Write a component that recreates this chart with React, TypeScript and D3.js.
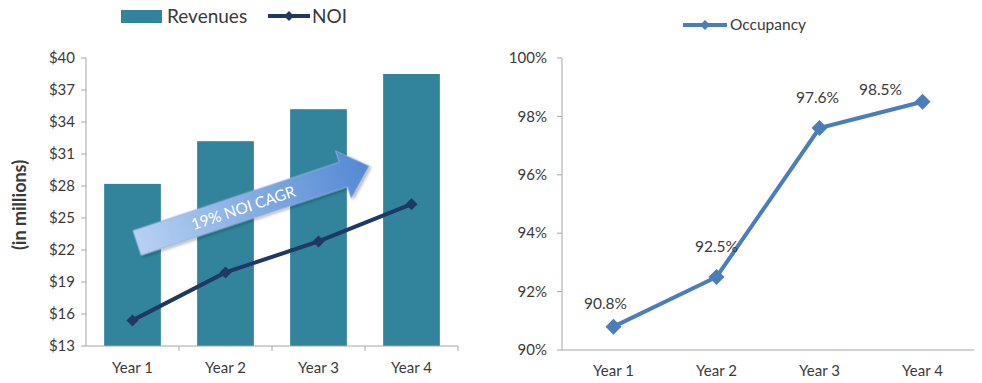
import React from "react";
import * as d3 from "d3";

const categories = ["Year 1", "Year 2", "Year 3", "Year 4"];
const revenues = [28.2, 32.2, 35.2, 38.5];
const noi = [15.4, 19.9, 22.8, 26.3];
const leftTicks = [13, 16, 19, 22, 25, 28, 31, 34, 37, 40];
const occupancy = [90.8, 92.5, 97.6, 98.5];
const occLabels = ["90.8%", "92.5%", "97.6%", "98.5%"];
const rightTicks = [90, 92, 94, 96, 98, 100];

const FONT = "Lato, 'Open Sans', sans-serif";
const TXT = "#3a3a3a";
const AX = "#a6a6a6";

function diamond(cx: number, cy: number, r: number) {
  return `M${cx},${cy - r}L${cx + r},${cy}L${cx},${cy + r}L${cx - r},${cy}Z`;
}

export default function App() {
  // Left chart
  const lx = d3.scaleBand<string>().domain(categories).range([86, 458]).paddingInner(0.39).paddingOuter(0.195);
  const lb = d3.scaleBand<string>().domain(categories).range([86, 458]);
  const ly = d3.scaleLinear().domain([13, 40]).range([346, 58]);
  const noiLine = d3
    .line<number>()
    .x((_, i) => lb(categories[i])! + lb.bandwidth() / 2)
    .y((d) => ly(d));

  // Right chart
  const rx = d3.scaleBand<string>().domain(categories).range([562, 974]);
  const ry = d3.scaleLinear().domain([90, 100]).range([350, 58]);
  const occLine = d3
    .line<number>()
    .x((_, i) => rx(categories[i])! + rx.bandwidth() / 2)
    .y((d) => ry(d));
  const labelOffsets = [
    [-8, -18],
    [0, -25],
    [-2, -25],
    [-42, -7],
  ];

  // Arrow geometry (annotation)
  const tail = [137, 243];
  const tip = [369, 166];
  const ang = Math.atan2(tip[1] - tail[1], tip[0] - tail[0]);
  const len = Math.hypot(tip[0] - tail[0], tip[1] - tail[1]);
  const headLen = 27;
  const shaftHalf = 13;
  const headHalf = 25;
  const arrowPath = `M0,${-shaftHalf}L${len - headLen},${-shaftHalf}L${len - headLen},${-headHalf}L${len},0L${len - headLen},${headHalf}L${len - headLen},${shaftHalf}L0,${shaftHalf}Z`;

  return (
    <svg width={982} height={383} style={{ position: "absolute", left: 0, top: 0, fontFamily: FONT }}>
      <defs>
        <linearGradient id="arrowGrad" x1="0" y1="0" x2="1" y2="0">
          <stop offset="0%" stopColor="#b7d1f2" />
          <stop offset="100%" stopColor="#5388d2" />
        </linearGradient>
        <filter id="shadow" x="-10%" y="-30%" width="120%" height="160%">
          <feDropShadow dx="1.5" dy="2" stdDeviation="1.5" floodColor="#000" floodOpacity="0.3" />
        </filter>
      </defs>
      <rect width={982} height={383} fill="#ffffff" />

      {/* Left legend */}
      <rect x={121} y={10} width={41} height={13} fill="#31849b" />
      <text x={167} y={23} fontSize={19} fill={TXT}>Revenues</text>
      <line x1={268} x2={310} y1={16} y2={16} stroke="#1f3864" strokeWidth={4} />
      <path d={diamond(289, 16, 5)} fill="#1f3864" />
      <text x={312} y={23} fontSize={19} fill={TXT}>NOI</text>

      {/* Left y label */}
      <text
        transform="translate(26,205) rotate(-90)"
        textAnchor="middle"
        fontSize={18}
        fontWeight="bold"
        fill={TXT}
      >
        (in millions)
      </text>

      {/* Left bars */}
      {revenues.map((v, i) => (
        <rect
          key={i}
          x={lx(categories[i])}
          y={ly(v)}
          width={lx.bandwidth()}
          height={ly(13) - ly(v)}
          fill="#31849b"
        />
      ))}

      {/* Left axes */}
      <line x1={86} x2={86} y1={58} y2={346} stroke={AX} strokeWidth={1} />
      {leftTicks.map((t) => (
        <g key={t}>
          <line x1={81} x2={86} y1={ly(t)} y2={ly(t)} stroke={AX} />
          <text x={75} y={ly(t)} dy="0.35em" textAnchor="end" fontSize={15} fill={TXT}>
            ${t}
          </text>
        </g>
      ))}
      <line x1={86} x2={458} y1={346} y2={346} stroke={AX} />
      {categories.map((c, i) => (
        <g key={c}>
          <line x1={lb(c)! + lb.bandwidth()} x2={lb(c)! + lb.bandwidth()} y1={346} y2={351} stroke={AX} />
          <text x={lb(c)! + lb.bandwidth() / 2} y={373} textAnchor="middle" fontSize={15} fill={TXT}>
            {c}
          </text>
        </g>
      ))}

      {/* Arrow annotation */}
      <g transform={`translate(${tail[0]},${tail[1]}) rotate(${(ang * 180) / Math.PI})`}>
        <path d={arrowPath} fill="url(#arrowGrad)" stroke="#8fb2e0" strokeWidth={0.8} filter="url(#shadow)" />
        <text x={112} y={0} dy="0.36em" textAnchor="middle" fontSize={15.5} fill="#ffffff">
          19% NOI CAGR
        </text>
      </g>

      {/* NOI line */}
      <path d={noiLine(noi)!} fill="none" stroke="#1f3864" strokeWidth={4} />
      {noi.map((v, i) => (
        <path key={i} d={diamond(lb(categories[i])! + lb.bandwidth() / 2, ly(v), 6)} fill="#1f3864" />
      ))}

      {/* Right legend */}
      <line x1={683} x2={727} y1={25} y2={25} stroke="#4a7ebb" strokeWidth={4} />
      <path d={diamond(705, 25, 5)} fill="#4a7ebb" />
      <text x={730} y={30} fontSize={15.5} fill={TXT}>Occupancy</text>

      {/* Right axes */}
      <line x1={562} x2={562} y1={58} y2={350} stroke={AX} />
      {rightTicks.map((t) => (
        <g key={t}>
          <line x1={557} x2={562} y1={ry(t)} y2={ry(t)} stroke={AX} />
          <text x={547} y={ry(t)} dy="0.35em" textAnchor="end" fontSize={15} fill={TXT}>
            {t}%
          </text>
        </g>
      ))}
      <line x1={562} x2={974} y1={350} y2={350} stroke={AX} />
      {categories.map((c) => (
        <text key={c} x={rx(c)! + rx.bandwidth() / 2} y={376} textAnchor="middle" fontSize={15} fill={TXT}>
          {c}
        </text>
      ))}

      {/* Occupancy line */}
      <path d={occLine(occupancy)!} fill="none" stroke="#4a7ebb" strokeWidth={4} />
      {occupancy.map((v, i) => {
        const cx = rx(categories[i])! + rx.bandwidth() / 2;
        const cy = ry(v);
        return (
          <g key={i}>
            <path d={diamond(cx, cy, 8)} fill="#4a7ebb" />
            <text
              x={cx + labelOffsets[i][0]}
              y={cy + labelOffsets[i][1]}
              textAnchor="middle"
              fontSize={15.5}
              fill={TXT}
            >
              {occLabels[i]}
            </text>
          </g>
        );
      })}
    </svg>
  );
}
